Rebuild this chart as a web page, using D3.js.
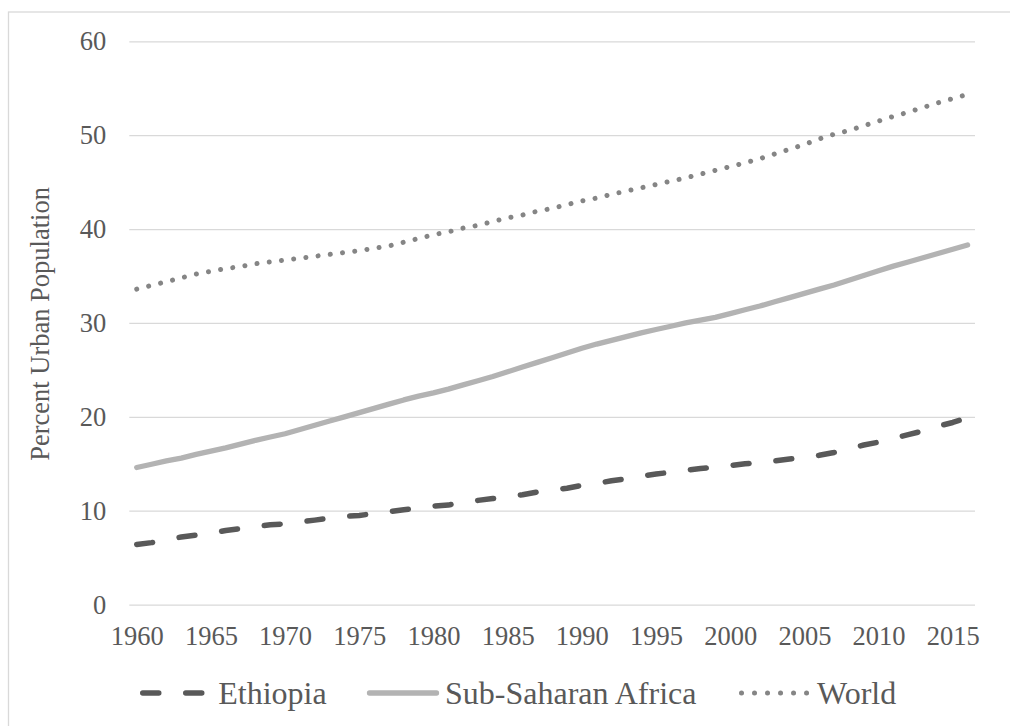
<!DOCTYPE html>
<html>
<head>
<meta charset="utf-8">
<script src="https://cdn.jsdelivr.net/npm/d3@7"></script>
<style>
  html, body { margin: 0; padding: 0; background: #ffffff; }
  svg { display: block; }
</style>
</head>
<body>
<svg id="chart" width="1010" height="726"></svg>
<script>
// Urban population share (% of total population), 1960–2016
const years = d3.range(1960, 2017);

const ethiopia = [
  6.4, 6.6, 6.9, 7.2, 7.4, 7.6, 7.9, 8.1, 8.3, 8.5,
  8.6, 8.8, 9.0, 9.2, 9.4, 9.5, 9.7, 9.9, 10.1, 10.3,
  10.5, 10.6, 10.9, 11.1, 11.3, 11.5, 11.7, 12.0, 12.2, 12.4,
  12.7, 12.9, 13.2, 13.4, 13.7, 13.9, 14.1, 14.3, 14.5, 14.6,
  14.8, 15.0, 15.1, 15.3, 15.5, 15.7, 15.9, 16.2, 16.6, 17.0,
  17.3, 17.7, 18.1, 18.5, 19.0, 19.4, 19.9
];

const subSaharanAfrica = [
  14.6, 14.95, 15.3, 15.6, 16.0, 16.35, 16.7, 17.1, 17.5, 17.85,
  18.2, 18.65, 19.1, 19.55, 20.0, 20.45, 20.9, 21.35, 21.8, 22.2,
  22.55, 22.95, 23.4, 23.85, 24.3, 24.8, 25.3, 25.8, 26.3, 26.8,
  27.3, 27.75, 28.15, 28.55, 28.95, 29.3, 29.65, 30.0, 30.3, 30.6,
  31.0, 31.4, 31.8, 32.25, 32.7, 33.15, 33.6, 34.05, 34.55, 35.05,
  35.55, 36.05, 36.5, 36.95, 37.4, 37.85, 38.3
];

const world = [
  33.6, 34.0, 34.4, 34.8, 35.2, 35.5, 35.8, 36.0, 36.3, 36.5,
  36.7, 36.9, 37.1, 37.3, 37.5, 37.7, 37.95, 38.2, 38.6, 39.0,
  39.4, 39.7, 40.1, 40.4, 40.8, 41.2, 41.5, 41.9, 42.2, 42.6,
  43.0, 43.3, 43.7, 44.05, 44.4, 44.75, 45.1, 45.45, 45.85, 46.25,
  46.65, 47.05, 47.5, 48.0, 48.5, 49.0, 49.6, 50.1, 50.5, 51.0,
  51.5, 52.0, 52.45, 52.95, 53.45, 53.9, 54.35
];

const yTicks = [0, 10, 20, 30, 40, 50, 60];
const xTickYears = [1960, 1965, 1970, 1975, 1980, 1985, 1990, 1995, 2000, 2005, 2010, 2015];
const seriesNames = ["Ethiopia", "Sub-Saharan Africa", "World"];
const yTitle = "Percent Urban Population";

const FONT = "'Liberation Serif', Tinos, 'Times New Roman', Times, 'DejaVu Serif', serif";

// Line styles for each series (legend sample length included)
const styles = {
  "Ethiopia":           { color: "#595959", width: 5.5, dash: "16,27",     legendDash: "16,27",     legendLen: 60 },
  "Sub-Saharan Africa": { color: "#b3b3b3", width: 5.3, dash: null,        legendDash: null,        legendLen: 67 },
  "World":              { color: "#858585", width: 5.0, dash: "0.01,12.3", legendDash: "0.01,13.0", legendLen: 65.1 }
};

const seriesData = {
  "Ethiopia": ethiopia,
  "Sub-Saharan Africa": subSaharanAfrica,
  "World": world
};

const svg = d3.select("#chart");
const W = 1010, H = 726;
const plot = { left: 129.3, right: 975, top: 41.3, bottom: 604.6 };

svg.append("rect").attr("width", W).attr("height", H).attr("fill", "#ffffff");

// outer chart frame
svg.append("rect")
  .attr("x", 8.5).attr("y", 12)
  .attr("width", 1200).attr("height", 900)
  .attr("fill", "none")
  .attr("stroke", "#d9d9d9")
  .attr("stroke-width", 1.3);

const x = d3.scalePoint()
  .domain(years)
  .range([plot.left, plot.right])
  .padding(0.5);

const y = d3.scaleLinear()
  .domain([0, 60])
  .range([plot.bottom, plot.top]);

// horizontal gridlines + y-axis labels
const yAxis = d3.axisLeft(y)
  .tickValues(yTicks)
  .tickSize(-(plot.right - plot.left))
  .tickPadding(23)
  .tickFormat(d3.format("d"));

const gy = svg.append("g")
  .attr("transform", `translate(${plot.left},0)`)
  .call(yAxis)
  .attr("font-family", FONT);
gy.select(".domain").remove();
gy.selectAll(".tick line")
  .attr("stroke", "#d9d9d9")
  .attr("stroke-width", 1.3);
gy.selectAll(".tick text")
  .attr("font-family", FONT)
  .attr("font-size", 26.5)
  .attr("fill", "#595959")
  .attr("dy", "0.32em");

// x-axis labels, every fifth year
const xAxis = d3.axisBottom(x)
  .tickValues(xTickYears)
  .tickSize(0)
  .tickPadding(22)
  .tickFormat(d3.format("d"));

const gx = svg.append("g")
  .attr("transform", `translate(0,${plot.bottom})`)
  .call(xAxis)
  .attr("font-family", FONT);
gx.select(".domain").remove();
gx.selectAll(".tick text")
  .attr("font-family", FONT)
  .attr("font-size", 26.5)
  .attr("fill", "#595959")
  .attr("dy", "0.71em");

// y-axis title
svg.append("text")
  .attr("transform", `translate(49,${(plot.top + plot.bottom) / 2 + 1}) rotate(-90)`)
  .attr("text-anchor", "middle")
  .attr("font-family", FONT)
  .attr("font-size", 26.5)
  .attr("fill", "#595959")
  .text(yTitle);

// series lines
const line = d3.line()
  .x((d, i) => x(years[i]))
  .y(d => y(d))
  .curve(d3.curveLinear);

seriesNames.forEach(name => {
  const s = styles[name];
  svg.append("path")
    .datum(seriesData[name])
    .attr("fill", "none")
    .attr("stroke", s.color)
    .attr("stroke-width", s.width)
    .attr("stroke-linecap", "round")
    .attr("stroke-linejoin", "round")
    .attr("stroke-dasharray", s.dash)
    .attr("d", line);
});

// legend
const legend = svg.append("g").attr("class", "legend");
const legendY = 693;
const legendStarts = [142.75, 369.5, 741.5];
seriesNames.forEach((name, i) => {
  const s = styles[name];
  const lx = legendStarts[i];
  legend.append("line")
    .attr("x1", lx).attr("x2", lx + s.legendLen)
    .attr("y1", legendY).attr("y2", legendY)
    .attr("stroke", s.color)
    .attr("stroke-width", s.width)
    .attr("stroke-linecap", "round")
    .attr("stroke-dasharray", s.legendDash);
  legend.append("text")
    .attr("x", lx + 75.5)
    .attr("y", legendY + 10.5)
    .attr("font-family", FONT)
    .attr("font-size", 32)
    .attr("fill", "#595959")
    .text(name);
});
</script>
</body>
</html>
